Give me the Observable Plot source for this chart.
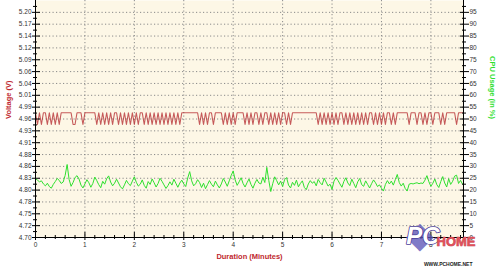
<!DOCTYPE html>
<html><head><meta charset="utf-8">
<script src="https://cdn.jsdelivr.net/npm/d3@7"></script>
<script src="https://cdn.jsdelivr.net/npm/@observablehq/plot@0.6"></script>
<style>body{margin:0;background:#fff}#chart svg{display:block}</style>
</head><body><div id="chart"></div>
<script>
// ---- data ----
const minuteTicks = [0, 1, 2, 3, 4, 5, 6, 7, 8];
const minuteMax = 8.66;
const cpuTicks = [0, 5, 10, 15, 20, 25, 30, 35, 40, 45, 50, 55, 60, 65, 70, 75, 80, 85, 90, 95];
const cpuTickLabels = ["0","5","10","15","20","25","30","35","40","45","50","55","60","65","70","75","80","85","90","95"];
const voltTickLabels = ["4.70","4.72","4.75","4.78","4.80","4.83","4.86","4.88","4.91","4.93","4.96","4.99","5.01","5.04","5.06","5.09","5.12","5.14","5.17","5.20"];
const voltAxisRange = [4.70, 5.20];   // voltage at cpu 0 and cpu 95
const sampleStep = 0.04;              // minutes between samples
const voltLevels = {L: 4.951, H: 4.977};
const voltStates =
  "HLHLHHLHLH" + "LHLHHHHHHL" + "LHHHLHHHHH" + "HLHLHLHLHL" + "HHLHLHLHLH" +
  "LHLHHLHLHL" + "HLHLHLHLHL" + "HLHLHHHHHH" + "HHHLHLHLHH" + "LHHHHLHLHL" +
  "HLHHHHLHLH" + "LHHLHLHHLH" + "LHLHLHHLHL" + "HHHHHHHHHH" + "HHHLHLHLHL" +
  "HLHLHHLHLH" + "LHLHLHLHLH" + "HLHLHLHLHH" + "LHLHHHHHHL" + "HHHLHHLHLH" +
  "HLHHHLHLHH" + "HHHLHHH";
const cpuUsage = [
  24.8,24.2,23.5,23.9,22.6,21.8,22.9,21.5,20.8,22.4,23.6,24.9,24.1,22.8,23.4,26.2,30.8,24.5,21.6,23.2,
  25.3,26.1,24.7,22.1,20.9,22.6,24.4,23.1,21.2,22.8,25.5,24.0,22.3,21.0,23.7,22.5,24.8,26.0,23.4,21.8,
  22.9,24.6,23.0,21.4,20.5,22.2,24.1,22.7,21.9,23.8,25.6,23.3,21.7,22.5,24.3,22.0,20.8,23.6,22.4,24.7,
  23.1,21.3,22.8,25.0,23.7,22.2,20.7,21.9,23.5,22.1,24.6,22.9,21.2,23.0,24.2,22.6,21.5,25.1,27.8,23.9,
  21.8,22.7,24.4,23.2,21.1,22.9,20.6,22.3,24.0,22.5,21.4,23.8,22.2,20.9,22.6,24.9,23.4,21.6,23.9,26.2,
  28.1,24.3,22.0,23.5,25.2,22.8,21.3,23.1,24.7,22.4,20.8,22.9,24.5,23.0,22.6,25.4,23.2,29.6,24.1,19.4,
  22.7,25.6,24.0,22.2,23.8,21.5,24.4,25.3,22.1,20.9,23.3,22.0,24.2,21.4,22.8,23.9,21.1,20.2,22.6,24.0,
  22.9,23.6,21.8,24.5,23.1,22.2,25.0,23.4,21.7,22.5,20.3,23.8,25.3,24.1,22.6,21.2,23.7,25.2,23.0,21.9,
  24.6,22.8,21.0,23.5,24.9,22.3,21.6,23.9,22.4,20.9,22.7,24.3,23.1,21.5,22.2,20.8,19.6,22.4,24.0,22.6,
  23.8,22.1,24.4,26.6,23.2,21.7,22.9,20.7,19.6,22.5,22.8,22.6,22.9,23.1,22.7,23.0,22.8,24.2,26.1,23.5,
  21.6,22.9,24.7,22.3,21.1,23.6,25.7,23.0,21.3,24.8,22.4,23.7,25.9,26.3,22.8,24.1,22.5
];

// ---- build table ----
const voltToCpuScale = v => (v - voltAxisRange[0]) / (voltAxisRange[1] - voltAxisRange[0]) * cpuTicks[cpuTicks.length - 1];
const rows = cpuUsage.map((c, i) => ({t: i * sampleStep, cpu: c, voltY: voltToCpuScale(voltLevels[voltStates[i]])}));
const cpuMinor = cpuTicks.map(d => d + 2.5);
const minuteMinor = d3.range(0, minuteMax, 0.2).filter(d => Math.abs(d - Math.round(d)) > 0.01);

const red = "#c0282e", green = "#2fe02f";
const chart = Plot.plot({
  width: 500, height: 270,
  marginLeft: 35, marginRight: 37, marginTop: 0, marginBottom: 33,
  x: {domain: [0, minuteMax]},
  y: {domain: [0, 100]},
  style: {fontFamily: "Liberation Sans, Arial, sans-serif", fontSize: "6.5px", background: "white", color: "#333", overflow: "visible"},
  marks: [
    Plot.frame({fill: "#fdf7e6", stroke: null}),
    Plot.gridY(cpuTicks.filter(d => d > 0), {stroke: "#8a8a8a", strokeOpacity: 1, strokeDasharray: "1.2,2.3"}),
    Plot.gridX(minuteTicks.filter(d => d > 0), {stroke: "#8a8a8a", strokeOpacity: 1, strokeDasharray: "1.2,2.3"}),
    Plot.line(rows, {x: "t", y: "voltY", stroke: "#b3262b", strokeWidth: 1.1, strokeOpacity: 0.75}),
    Plot.line(rows, {x: "t", y: "cpu", stroke: green, strokeWidth: 1}),
    Plot.ruleX([0, minuteMax], {stroke: "#000", strokeWidth: 1}),
    Plot.ruleY([0], {stroke: "#000", strokeWidth: 1}),
    // crossing ticks
    Plot.axisY(cpuTicks, {anchor: "left", tickSize: 8, dx: 5, tickFormat: () => "", label: null, stroke: "#000"}),
    Plot.axisY(cpuMinor, {anchor: "left", tickSize: 4, dx: 2, tickFormat: () => "", label: null, stroke: "#000"}),
    Plot.axisY(cpuTicks, {anchor: "right", tickSize: 9, dx: -4, tickFormat: () => "", label: null, stroke: "#000"}),
    Plot.axisY(cpuMinor, {anchor: "right", tickSize: 4, dx: -2, tickFormat: () => "", label: null, stroke: "#000"}),
    Plot.axisX(minuteTicks, {anchor: "bottom", tickSize: 8, dy: -5, tickFormat: () => "", label: null, stroke: "#000"}),
    Plot.axisX(minuteMinor, {anchor: "bottom", tickSize: 4, dy: -2, tickFormat: () => "", label: null, stroke: "#000"}),
    // tick labels
    Plot.axisY(cpuTicks, {anchor: "left", tickSize: 0, tickPadding: 4, tickFormat: d => voltTickLabels[cpuTicks.indexOf(d)], label: null}),
    Plot.axisY(cpuTicks, {anchor: "right", tickSize: 0, tickPadding: 6, tickFormat: d => cpuTickLabels[cpuTicks.indexOf(d)], label: null}),
    Plot.axisX(minuteTicks, {anchor: "bottom", tickSize: 0, tickPadding: 5, label: null}),
    // axis titles
    Plot.text(["Voltage (V)"], {text: d => d, frameAnchor: "left", dx: -27, rotate: -90, fill: red, fontWeight: "bold", fontSize: 7.5}),
    Plot.text(["CPU Usage (in %)"], {text: d => d, frameAnchor: "right", dx: 29, rotate: 90, fill: green, fontWeight: "bold", fontSize: 7.5}),
    Plot.text(["Duration (Minutes)"], {text: d => d, frameAnchor: "bottom", dy: 21, fill: red, fontWeight: "bold", fontSize: 7.5}),
    // watermark
    Plot.text(["◆"], {text: d => d, frameAnchor: "bottom-right", dx: -30, dy: 9, fontSize: 36, fill: "#5d55b8", fillOpacity: 0.8}),
    Plot.text(["PC"], {text: d => d, frameAnchor: "bottom-right", dx: -24, dy: 6, fontSize: 24, fontWeight: 900, fontStyle: "italic", fill: "#fff", stroke: "#4a3f9a", strokeWidth: 1.6, paintOrder: "stroke"}),
    Plot.text(["HOME"], {text: d => d, frameAnchor: "bottom-right", dx: 12, dy: 8, fontSize: 13, fontWeight: 900, fill: "#e0505a", stroke: "#b8303c", strokeWidth: 0.6}),
    Plot.text(["WWW.PCHOME.NET"], {text: d => d, frameAnchor: "bottom-right", dx: 9, dy: 28, fontSize: 5, fontWeight: "bold", fill: "#222"})
  ]
});
document.getElementById("chart").append(chart);
</script>
</body></html>
